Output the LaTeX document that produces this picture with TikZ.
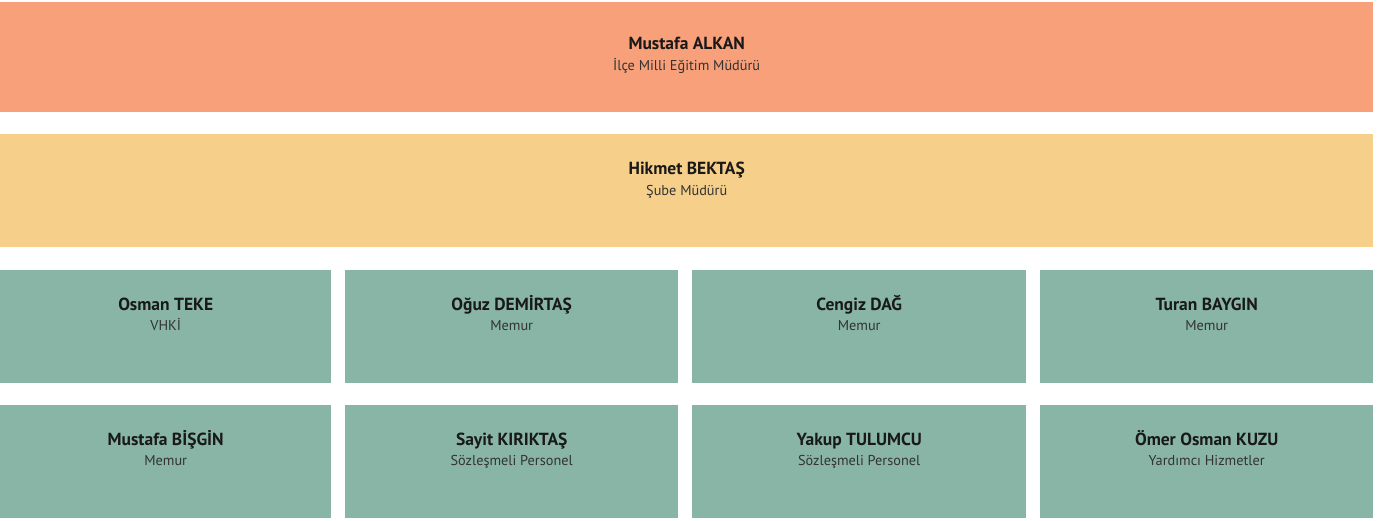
\documentclass[tikz,border=0pt]{standalone}
\usepackage{fontspec}
\setmainfont{PT Sans}
\usepackage{tikz}
\usetikzlibrary{positioning,calc}
\definecolor{mudurcolor}{HTML}{F7A07A}
\definecolor{subecolor}{HTML}{F6D08A}
\definecolor{staffcolor}{HTML}{88B5A5}
\definecolor{rolecolor}{HTML}{333333}
\tikzset{
	unit box/.style={
		rectangle,
		inner sep=0pt,
		anchor=north west,
		minimum height=113pt
	},
	person name/.style={
		anchor=base,
		inner sep=0pt,
		font=\fontsize{17.5}{20}\selectfont\bfseries,
		text=black!90
	},
	person role/.style={
		anchor=base,
		inner sep=0pt,
		font=\fontsize{14.3}{17}\selectfont,
		text=rolecolor
	}
}

\begin{document}
\begin{tikzpicture}[x=1pt,y=-1pt]
		\useasboundingbox (0,0) rectangle (1383,521);
		% top levels
		\node[unit box,fill=mudurcolor,minimum width=1373pt,minimum height=110pt] (mudur) at (0,2) {};
		\node[person name] (mudur name) at ([yshift=-48pt]mudur.north) {Mustafa ALKAN};
		\node[person role] (mudur role) at ([yshift=-68.7pt]mudur.north) {İlçe Milli Eğitim Müdürü};
		\node[unit box,fill=subecolor,minimum width=1373pt] (sube) at (0,134) {};
		\node[person name] (sube name) at ([yshift=-41pt]sube.north) {Hikmet BEKTAŞ};
		\node[person role] (sube role) at ([yshift=-61.7pt]sube.north) {Şube Müdürü};
		% staff, two rows
		\foreach \i/\xs/\w/\nameA/\roleA/\nameB/\roleB in {
			1/0/331/Osman TEKE/VHKİ/Mustafa BİŞGİN/Memur,
			2/345/333/Oğuz DEMİRTAŞ/Memur/Sayit KIRIKTAŞ/Sözleşmeli Personel,
			3/692/334/Cengiz DAĞ/Memur/Yakup TULUMCU/Sözleşmeli Personel,
			4/1040/333/Turan BAYGIN/Memur/Ömer Osman KUZU/Yardımcı Hizmetler}{
			\node[unit box,fill=staffcolor,minimum width=\w pt] (staff a\i) at (\xs,270) {};
			\node[person name] (staff a\i name) at ([yshift=-40pt]staff a\i.north) {\nameA};
			\node[person role] (staff a\i role) at ([yshift=-60.7pt]staff a\i.north) {\roleA};
			\node[unit box,fill=staffcolor,minimum width=\w pt] (staff b\i) at (\xs,405) {};
			\node[person name] (staff b\i name) at ([yshift=-40pt]staff b\i.north) {\nameB};
			\node[person role] (staff b\i role) at ([yshift=-60.7pt]staff b\i.north) {\roleB};
		}
	\end{tikzpicture}
\end{document}
